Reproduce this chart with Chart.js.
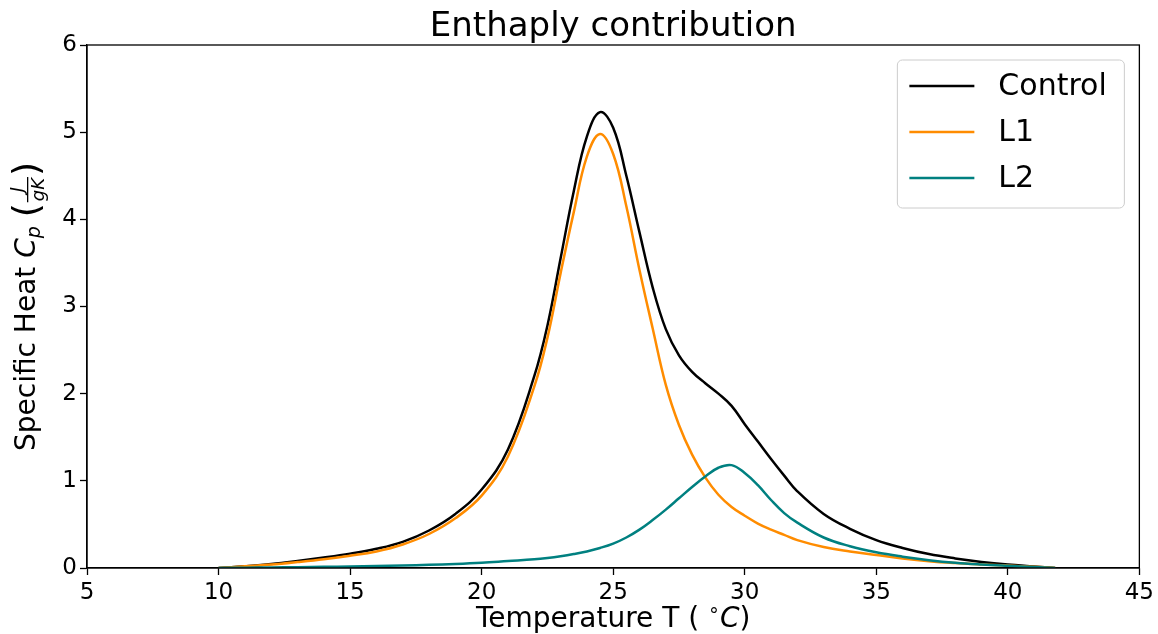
<!DOCTYPE html>
<html>
<head>
<meta charset="utf-8">
<script src="https://cdn.jsdelivr.net/npm/chart.js@4/dist/chart.umd.min.js"></script>
<style>
    body { margin: 0; background: #fff; }
    #wrap { width: 1158px; height: 634px; }
</style>
</head>
<body>
<div id="wrap"><canvas id="chart" width="1158" height="634"></canvas></div>
<script>
// Values
const temps = [10, 11, 12, 13, 14, 15, 16, 17, 18, 19, 20,
    21, 22, 22.5, 23, 23.5, 24, 24.5, 25, 25.5, 26, 26.5, 27, 27.5, 28, 28.5, 29, 29.5, 30, 30.5, 31, 31.5, 32,
    33, 34, 35, 36, 37, 38, 39, 40, 41, 41.8];

const controlCp = [0, 0.02, 0.045, 0.08, 0.12, 0.165, 0.22, 0.3, 0.43, 0.62, 0.9,
    1.36, 2.2, 2.78, 3.55, 4.32, 4.95, 5.23, 5.05, 4.5, 3.85, 3.22, 2.74, 2.44, 2.25, 2.12, 2.0, 1.86, 1.65, 1.45, 1.25, 1.06, 0.88,
    0.62, 0.45, 0.32, 0.23, 0.16, 0.11, 0.07, 0.04, 0.018, 0];

const l1Cp = [0, 0.02, 0.04, 0.068, 0.1, 0.14, 0.19, 0.27, 0.39, 0.57, 0.83,
    1.28, 2.08, 2.64, 3.38, 4.08, 4.72, 4.98, 4.75, 4.15, 3.42, 2.75, 2.1, 1.64, 1.3, 1.04, 0.84, 0.7, 0.6, 0.51, 0.44, 0.38, 0.32,
    0.24, 0.19, 0.15, 0.11, 0.078, 0.056, 0.04, 0.028, 0.014, 0];

const l2Cp = [0, 0.003, 0.006, 0.01, 0.013, 0.017, 0.022, 0.028, 0.036, 0.046, 0.06,
    0.08, 0.1, 0.115, 0.135, 0.16, 0.19, 0.23, 0.28, 0.35, 0.44, 0.55, 0.67, 0.8, 0.93, 1.05, 1.15, 1.18, 1.09, 0.95, 0.78, 0.63, 0.52,
    0.35, 0.25, 0.18, 0.13, 0.09, 0.06, 0.04, 0.025, 0.012, 0];

const seriesNames = ["Control", "L1", "L2"];
const seriesColors = ["#000000", "#ff8c00", "#008080"];
const xTickValues = [5, 10, 15, 20, 25, 30, 35, 40, 45];
const yTickValues = [0, 1, 2, 3, 4, 5, 6];
const chartTitle = "Enthaply contribution";

const FONT = "'DejaVu Sans', 'Noto Sans', sans-serif";
Chart.defaults.font.family = FONT;
Chart.defaults.color = "#000";

function toPoints(values) {
    return temps.map((t, i) => ({ x: t, y: values[i] }));
}

// draws a run of text pieces centred on x = 0 at baseline y = 0
function drawPieces(ctx, pieces) {
    let total = 0;
    pieces.forEach(p => {
        ctx.font = p.font;
        p.w = p.frac ? Math.max(ctx.measureText(p.num).width, ctx.measureText(p.den).width) + 4 : ctx.measureText(p.text).width;
        total += p.w;
    });
    let x = -total / 2;
    ctx.textAlign = "left";
    ctx.textBaseline = "alphabetic";
    pieces.forEach(p => {
        ctx.font = p.font;
        if (p.frac) {
            const cx = x + p.w / 2;
            ctx.textAlign = "center";
            ctx.fillText(p.num, cx, -12);
            ctx.fillText(p.den, cx, 9);
            ctx.fillRect(x + 1, -8, p.w - 2, 1.3);
            ctx.textAlign = "left";
        } else {
            ctx.fillText(p.text, x, p.dy || 0);
        }
        x += p.w;
    });
}

const decorPlugin = {
    id: "decor",
    afterDraw(chart) {
        const { ctx, chartArea: a } = chart;
        ctx.save();

        // frame
        ctx.strokeStyle = "#000";
        ctx.lineWidth = 1.3;
        ctx.strokeRect(a.left, a.top, a.right - a.left, a.bottom - a.top);

        // title
        ctx.fillStyle = "#000";
        ctx.font = "34px " + FONT;
        ctx.textAlign = "center";
        ctx.textBaseline = "alphabetic";
        ctx.fillText(chartTitle, (a.left + a.right) / 2, 36);

        // x axis title
        ctx.save();
        ctx.translate((a.left + a.right) / 2, 627);
        drawPieces(ctx, [
            { text: "Temperature T (", font: "28px " + FONT },
            { text: " ", font: "28px " + FONT },
            { text: "\u2218", font: "19px " + FONT, dy: -11 },
            { text: "C", font: "italic 28px " + FONT },
            { text: ")", font: "28px " + FONT }
        ]);
        ctx.restore();

        // y axis title
        ctx.save();
        ctx.translate(35, (a.top + a.bottom) / 2);
        ctx.rotate(-Math.PI / 2);
        drawPieces(ctx, [
            { text: "Specific Heat ", font: "28px " + FONT },
            { text: "C", font: "italic 28px " + FONT },
            { text: "p", font: "italic 19px " + FONT, dy: 5 },
            { text: " ", font: "28px " + FONT },
            { text: "(", font: "36px " + FONT, dy: 3 },
            { frac: true, num: "J", den: "gK", font: "italic 18px " + FONT },
            { text: ")", font: "36px " + FONT, dy: 3 }
        ]);
        ctx.restore();

        // legend
        const bw = 227, bh = 148;
        const bx = a.right - 15 - bw, by = a.top + 15;
        ctx.beginPath();
        ctx.roundRect(bx, by, bw, bh, 5);
        ctx.fillStyle = "rgba(255,255,255,0.8)";
        ctx.fill();
        ctx.strokeStyle = "#cccccc";
        ctx.lineWidth = 1;
        ctx.stroke();
        ctx.font = "30px " + FONT;
        ctx.textAlign = "left";
        ctx.textBaseline = "middle";
        seriesNames.forEach((name, i) => {
            const ly = by + 26 + i * 46;
            ctx.strokeStyle = seriesColors[i];
            ctx.lineWidth = 2.5;
            ctx.beginPath();
            ctx.moveTo(bx + 12, ly);
            ctx.lineTo(bx + 77, ly);
            ctx.stroke();
            ctx.fillStyle = "#000";
            ctx.fillText(name, bx + 101, ly + 1);
        });

        ctx.restore();
    }
};

document.addEventListener("DOMContentLoaded", () => {
    const canvas = document.getElementById("chart");
    const seriesValues = [controlCp, l1Cp, l2Cp];

    new Chart(canvas.getContext("2d"), {
        type: "line",
        data: {
            datasets: seriesNames.map((name, i) => ({
                label: name,
                data: toPoints(seriesValues[i]),
                borderColor: seriesColors[i],
                borderWidth: 2.5,
                pointRadius: 0,
                fill: false,
                tension: 0.4,
                order: seriesNames.length - i
            }))
        },
        options: {
            responsive: false,
            animation: false,
            layout: { padding: { top: 45, right: 18, left: 0, bottom: 0 } },
            plugins: {
                legend: { display: false },
                tooltip: { enabled: false }
            },
            scales: {
                x: {
                    type: "linear",
                    min: 5,
                    max: 45,
                    afterBuildTicks: scale => { scale.ticks = xTickValues.map(v => ({ value: v })); },
                    afterFit: scale => { scale.height = 66; },
                    grid: { drawOnChartArea: false, drawTicks: true, tickLength: 7, tickColor: "#000", tickWidth: 1.3 },
                    border: { display: true, color: "#000", width: 1.3 },
                    ticks: { font: { size: 23 }, color: "#000", padding: 4, maxRotation: 0 }
                },
                y: {
                    min: 0,
                    max: 6,
                    afterBuildTicks: scale => { scale.ticks = yTickValues.map(v => ({ value: v })); },
                    afterFit: scale => { scale.width = 87; },
                    grid: { drawOnChartArea: false, drawTicks: true, tickLength: 7, tickColor: "#000", tickWidth: 1.3 },
                    border: { display: true, color: "#000", width: 1.3 },
                    ticks: { font: { size: 23 }, color: "#000", padding: 3 }
                }
            }
        },
        plugins: [decorPlugin]
    });
});
</script>
</body>
</html>
